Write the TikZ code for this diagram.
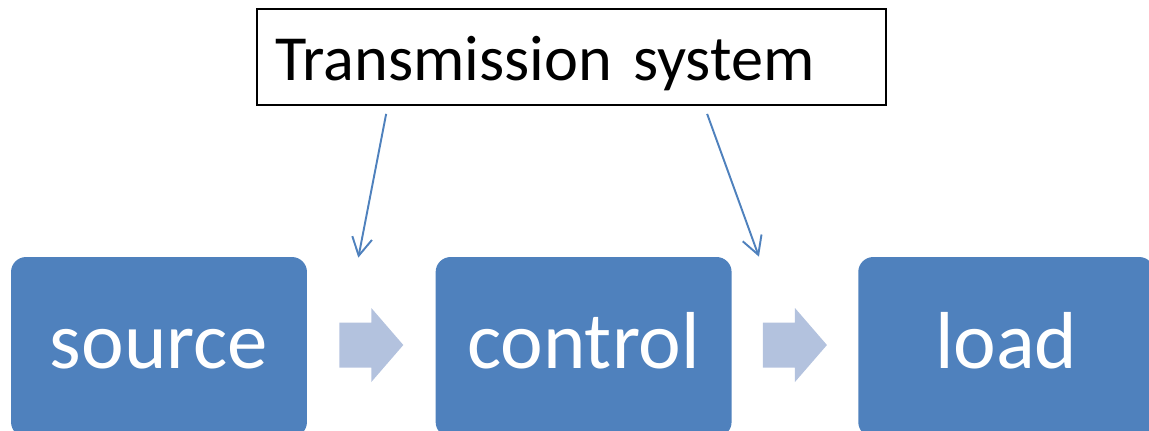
\documentclass[tikz,border=0pt]{standalone}
\usepackage{fontspec}
\setmainfont{Carlito}
\usetikzlibrary{positioning,calc,arrows.meta}
\definecolor{stageblue}{RGB}{79,129,189}
\definecolor{flowblue}{RGB}{179,194,222}

\begin{document}
\begin{tikzpicture}[
    x=0.02cm, y=-0.02cm,
    stage/.style={fill=stageblue, rounded corners=0.3cm, minimum width=5.92cm, minimum height=3.6cm, inner sep=0pt, text height=0.84cm, text depth=0pt, text=white, font=\fontsize{46}{50}\selectfont},
    sysbox/.style={draw, line width=1.05pt, minimum width=12.58cm, minimum height=1.92cm, text width=11.86cm, inner xsep=0.36cm, inner ysep=0pt, text height=0.96cm, text depth=0pt, align=left, font=\fontsize{36.6}{40}\selectfont},
    feed/.style={-{Straight Barb[length=0.36cm, width=0.4cm]}, stageblue, line width=1.1pt},
    node distance=2.56cm
]
\useasboundingbox (0,0) rectangle (1149,430);
\clip (0,0) rectangle (1149,430);

% ========== TOP: transmission system ==========
\node[sysbox] (sys) at (571.5,57) {Transmission system};

% ========== BOTTOM ROW: source -> control -> load ==========
\node[stage] (src) at (159,347) {source};
\node[stage, right=2.56cm of src] (ctrl) {control};
\node[stage, right=2.52cm of ctrl] (load) {load};

% block arrows between the stages
\foreach \a/\b in {src/ctrl, ctrl/load} {
  \begin{scope}[shift={($(\a.east)!0.5!(\b.west)+(0,-2)$)}]
    \fill[flowblue] (-32,-22.5) -- (0,-22.5) -- (0,-37) -- (32,0) -- (0,37) -- (0,22.5) -- (-32,22.5) -- cycle;
  \end{scope}
}

% feeds from the transmission system
\coordinate (tap1) at ($(sys.south west)+(130,8)$);
\coordinate (tap2) at ($(sys.south west)+(451,8)$);
\coordinate (in1) at ($(src.north east)+(51,1)$);
\coordinate (in2) at ($(ctrl.north east)+(27,0)$);
\draw[feed] (tap1) -- (in1);
\draw[feed] (tap2) -- (in2);

\end{tikzpicture}
\end{document}
